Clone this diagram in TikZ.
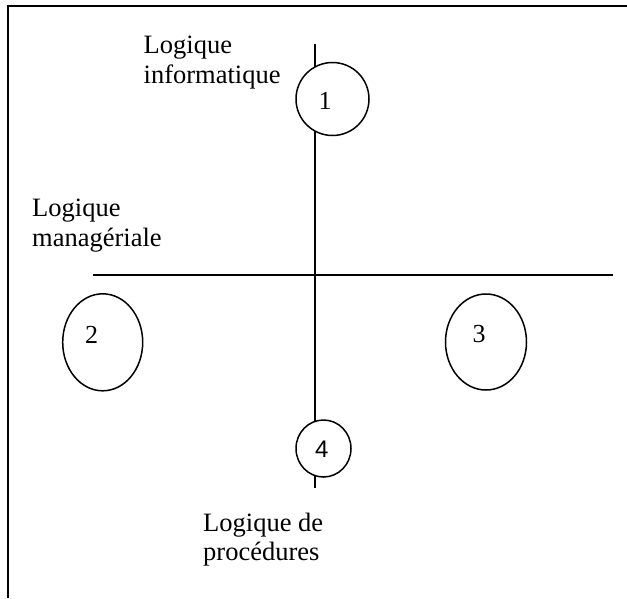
\documentclass[tikz,border=0pt]{standalone}
\usepackage{fontspec}
\setmainfont{Liberation Serif}
\newfontfamily\arialfont{Liberation Sans}
\usetikzlibrary{shapes.geometric}
\begin{document}
\begin{tikzpicture}[x=1pt,y=-1pt,
  frameline/.style={line width=2pt},
  axis/.style={line width=1.5pt},
  bubble/.style={ellipse,draw,line width=1.5pt,fill=white,inner sep=0pt},
  caption/.style={anchor=base west,align=left,inner sep=0pt,font=\fontsize{26.5}{29.5}\selectfont},
  digit/.style={inner sep=0pt,font=\fontsize{26}{29.5}\selectfont}]
\useasboundingbox (0,0) rectangle (627,598);
% frame (only top and left edges visible)
\coordinate (fTL) at (8,6);
\coordinate (fTR) at (627,6);
\coordinate (fBL) at (8,598);
\draw[frameline] (fTR) -- (fTL) -- (fBL);
% axes
\coordinate (vTop) at (315,44);
\coordinate (vBot) at (315,488);
\coordinate (hL) at (93,275);
\coordinate (hR) at (613,275);
\draw[axis] (vTop) -- (vBot);
\draw[axis] (hL) -- (hR);
% bubbles
\node[bubble,minimum width=73pt,minimum height=73pt] (e1) at (332.5,99) {};
\node[bubble,minimum width=80pt,minimum height=97pt] (e2) at (102.7,342.3) {};
\node[bubble,minimum width=81pt,minimum height=96pt] (e3) at (486,342) {};
\node[bubble,minimum width=55pt,minimum height=57pt] (e4) at (323.5,448.5) {};
\node[digit] (n1) at (325,101) {1};
\node[digit] (n2) at (91.7,335) {2};
\node[digit] (n3) at (479,334) {3};
\node[digit,font=\arialfont\fontsize{24}{28}\selectfont] (n4) at (321.7,449) {4};
% captions (anchored at the baseline of the last line)
\node[caption] (tInfo) at (143.5,83) {Logique\\informatique};
\node[caption] (tMan) at (32,246) {Logique\\managériale};
\node[caption] (tProc) at (203,560.5) {Logique de\\procédures};
\end{tikzpicture}
\end{document}
